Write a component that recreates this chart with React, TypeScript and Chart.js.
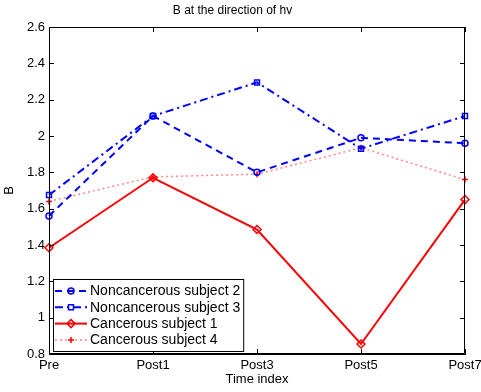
import React, { useEffect, useRef } from 'react';
import { Chart, registerables } from 'chart.js';
import { drawPoint } from 'chart.js/helpers';

Chart.register(...registerables);

const categories = ['Pre', 'Post1', 'Post3', 'Post5', 'Post7'];
const nonCancerous2 = [1.56, 2.11, 1.8, 1.99, 1.96];
const nonCancerous3 = [1.675, 2.11, 2.295, 1.93, 2.11];
const cancerous1 = [1.385, 1.77, 1.485, 0.855, 1.65];
const cancerous4 = [1.64, 1.775, 1.79, 1.935, 1.76];

const seriesLabels = [
  'Noncancerous subject 2',
  'Noncancerous subject 3',
  'Cancerous subject 1',
  'Cancerous subject 4',
];

const titleText = 'B at the direction of hv';
const xTitle = 'Time index';
const yTitle = 'B';
const yMin = 0.8;
const yMax = 2.6;
const yStep = 0.2;

const FONT = 'Liberation Sans, Arial, Helvetica, sans-serif';

const framePlugin = {
  id: 'frame',
  afterDatasetsDraw(chart: any) {
    const { ctx, chartArea: ca, scales } = chart;
    ctx.save();
    ctx.strokeStyle = '#000';
    ctx.lineWidth = 1;
    ctx.beginPath();
    ctx.rect(ca.left + 0.5, ca.top + 0.5, ca.right - ca.left - 1, ca.bottom - ca.top - 1);
    ctx.stroke();
    const tl = 5;
    ctx.beginPath();
    const xs = scales.x;
    xs.ticks.forEach((_t: any, i: number) => {
      const px = Math.round(xs.getPixelForTick(i)) + 0.5;
      ctx.moveTo(px, ca.bottom);
      ctx.lineTo(px, ca.bottom - tl);
      ctx.moveTo(px, ca.top);
      ctx.lineTo(px, ca.top + tl);
    });
    const ys = scales.y;
    ys.ticks.forEach((_t: any, i: number) => {
      const py = Math.round(ys.getPixelForTick(i)) + 0.5;
      ctx.moveTo(ca.left, py);
      ctx.lineTo(ca.left + tl, py);
      ctx.moveTo(ca.right, py);
      ctx.lineTo(ca.right - tl, py);
    });
    ctx.stroke();
    ctx.restore();
  },
};

const legendPlugin = {
  id: 'insideLegend',
  afterDraw(chart: any) {
    const { ctx, chartArea: ca } = chart;
    const datasets = chart.data.datasets;
    ctx.save();
    ctx.font = '14px ' + FONT;
    let maxW = 0;
    datasets.forEach((d: any) => {
      maxW = Math.max(maxW, ctx.measureText(d.label).width);
    });
    const x0 = ca.left + 4;
    const rowH = 16.3;
    const h = 72;
    const y1 = ca.bottom - 3;
    const y0 = y1 - h;
    const textX = x0 + 37;
    const w = textX - x0 + maxW + 3;
    ctx.fillStyle = '#fff';
    ctx.fillRect(x0, y0, w, h);
    ctx.strokeStyle = '#000';
    ctx.lineWidth = 1;
    ctx.strokeRect(x0 + 0.5, y0 + 0.5, w, h);
    datasets.forEach((d: any, i: number) => {
      const cy = y0 + 12 + i * rowH;
      ctx.save();
      ctx.strokeStyle = d.borderColor;
      ctx.lineWidth = d.borderWidth;
      ctx.setLineDash(d.borderDash || []);
      ctx.beginPath();
      ctx.moveTo(x0 + 2, cy);
      ctx.lineTo(x0 + 34, cy);
      ctx.stroke();
      ctx.setLineDash([]);
      ctx.strokeStyle = d.pointBorderColor;
      ctx.fillStyle = 'rgba(0,0,0,0)';
      ctx.lineWidth = d.pointBorderWidth;
      drawPoint(ctx, { pointStyle: d.pointStyle, radius: d.pointRadius, rotation: 0, borderWidth: d.pointBorderWidth }, x0 + 18, cy);
      ctx.restore();
      ctx.fillStyle = '#000';
      ctx.textBaseline = 'middle';
      ctx.textAlign = 'left';
      ctx.fillText(d.label, textX, cy + 0.5);
    });
    ctx.restore();
  },
};

export default function App() {
  const ref = useRef<HTMLCanvasElement | null>(null);

  useEffect(() => {
    if (!ref.current) return;
    const chart = new Chart(ref.current, {
      type: 'line',
      data: {
        labels: categories,
        datasets: [
          {
            label: seriesLabels[0],
            data: nonCancerous2,
            borderColor: '#0000ff',
            borderWidth: 2,
            borderDash: [7, 5],
            pointStyle: 'circle',
            pointRadius: 3,
            pointBorderWidth: 1.5,
            pointBorderColor: '#0000ff',
            pointBackgroundColor: 'rgba(0,0,0,0)',
            tension: 0,
            fill: false,
          },
          {
            label: seriesLabels[1],
            data: nonCancerous3,
            borderColor: '#0000ff',
            borderWidth: 2,
            borderDash: [8, 4, 2, 4],
            pointStyle: 'rect',
            pointRadius: 3.5,
            pointBorderWidth: 1.5,
            pointBorderColor: '#0000ff',
            pointBackgroundColor: 'rgba(0,0,0,0)',
            tension: 0,
            fill: false,
          },
          {
            label: seriesLabels[2],
            data: cancerous1,
            borderColor: '#ff0000',
            borderWidth: 2,
            borderDash: [],
            pointStyle: 'rectRot',
            pointRadius: 4,
            pointBorderWidth: 1.5,
            pointBorderColor: '#ff0000',
            pointBackgroundColor: 'rgba(0,0,0,0)',
            tension: 0,
            fill: false,
          },
          {
            label: seriesLabels[3],
            data: cancerous4,
            borderColor: 'rgba(255,70,70,0.65)',
            borderWidth: 1.5,
            borderDash: [2, 3],
            pointStyle: 'cross',
            pointRadius: 3,
            pointBorderWidth: 1.5,
            pointBorderColor: '#ff0000',
            pointBackgroundColor: 'rgba(0,0,0,0)',
            tension: 0,
            fill: false,
          },
        ],
      },
      options: {
        responsive: false,
        animation: false,
        devicePixelRatio: 1,
        layout: { padding: { left: 0, right: 16, top: 0, bottom: 0 } },
        plugins: {
          legend: { display: false },
          tooltip: { enabled: false },
          title: {
            display: true,
            text: titleText,
            color: '#000',
            font: { family: FONT, size: 12, weight: 'normal' },
            padding: { top: 3, bottom: 9.6 },
          },
        },
        scales: {
          x: {
            type: 'category',
            offset: false,
            grid: { display: false, drawTicks: false },
            border: { display: true, color: '#000', width: 1 },
            ticks: {
              color: '#000',
              font: { family: FONT, size: 13 },
              padding: 4,
              maxRotation: 0,
              autoSkip: false,
            },
            title: {
              display: true,
              text: xTitle,
              color: '#000',
              font: { family: FONT, size: 13 },
              padding: { top: 0, bottom: 5 },
            },
            afterFit(scale: any) {
              scale.height = 38;
              scale.paddingLeft = 0;
              scale.paddingRight = 0;
            },
          },
          y: {
            type: 'linear',
            min: yMin,
            max: yMax,
            grid: { display: false, drawTicks: false },
            border: { display: true, color: '#000', width: 1 },
            ticks: {
              stepSize: yStep,
              color: '#000',
              font: { family: FONT, size: 13 },
              padding: 4,
              callback: (v: any) => String(Number(Number(v).toFixed(2))),
            },
            title: {
              display: true,
              text: yTitle,
              color: '#000',
              font: { family: FONT, size: 13 },
              padding: { top: 2, bottom: 0 },
            },
            afterFit(scale: any) {
              scale.width = 49;
              scale.paddingTop = 0;
              scale.paddingBottom = 0;
            },
          },
        },
      },
      plugins: [framePlugin, legendPlugin],
    } as any);
    return () => chart.destroy();
  }, []);

  return (
    <div style={{ position: 'fixed', left: 0, top: 0, width: 481, height: 392, overflow: 'hidden', background: '#fff' }}>
      <canvas ref={ref} width={481} height={392} style={{ display: 'block' }} />
    </div>
  );
}
